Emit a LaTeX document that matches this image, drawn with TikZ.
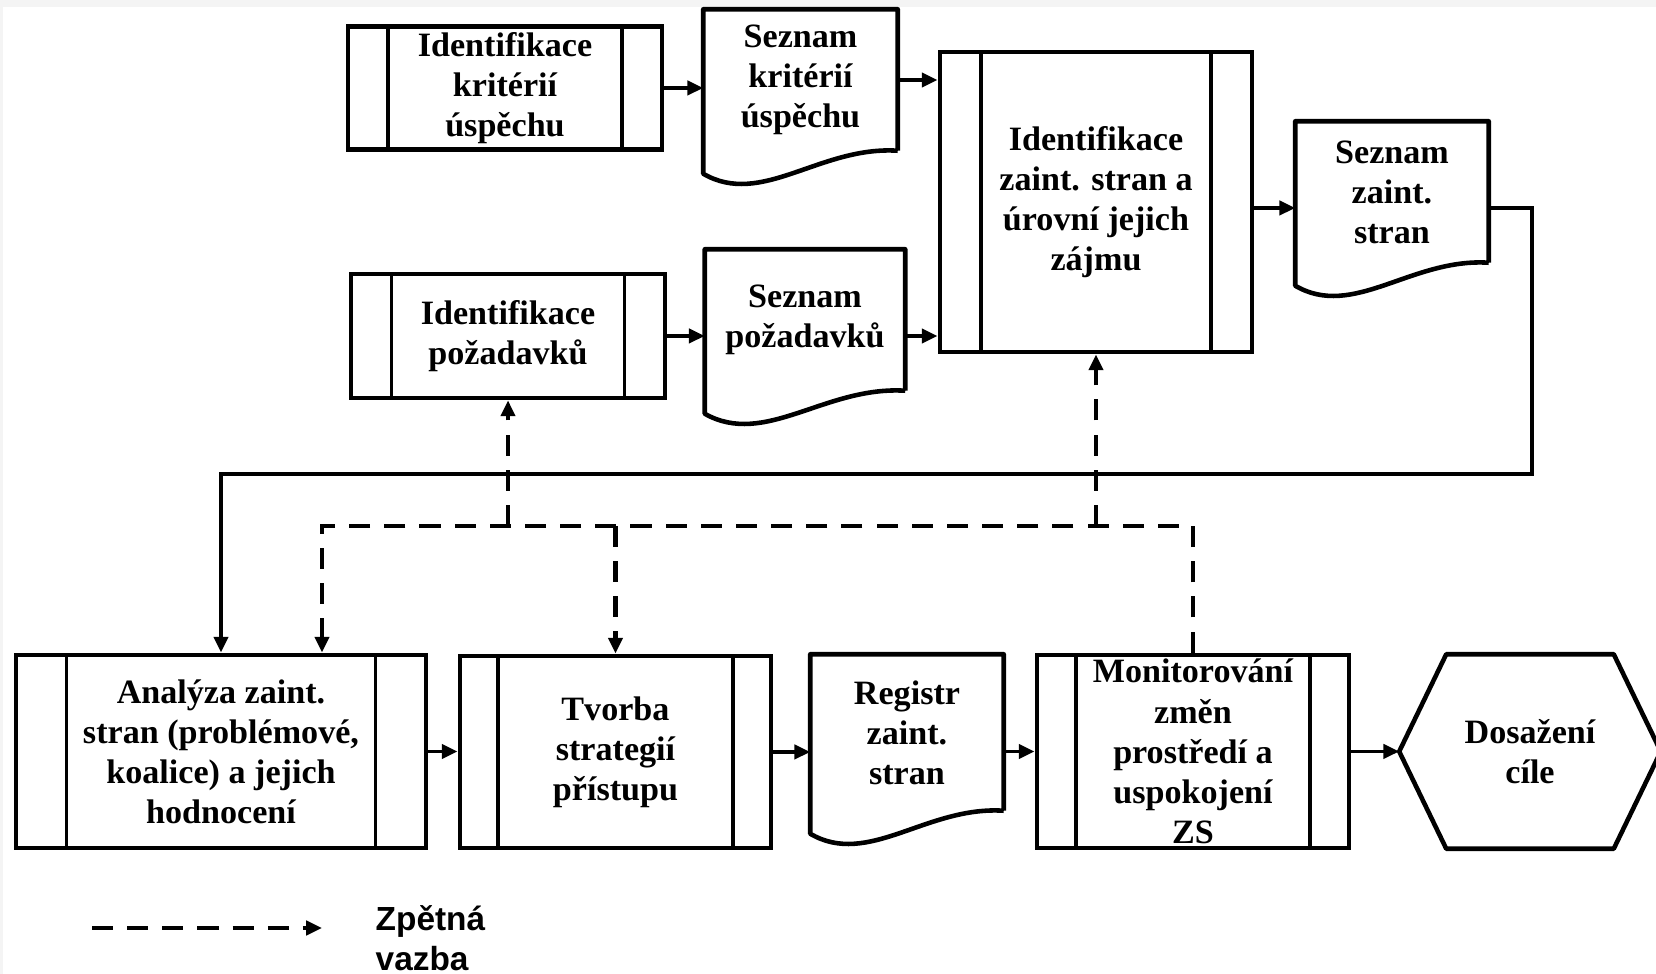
\documentclass[tikz,border=0pt]{standalone}
\usepackage{fontspec}
\setmainfont{Liberation Serif}
\setsansfont{Liberation Sans}
\usetikzlibrary{positioning, arrows.meta, calc}
\definecolor{framegray}{HTML}{F4F4F4}

% document outline with a wavy bottom, drawn round a named node
\newcommand{\docoutline}[1]{%
  \draw[docline] (#1.south east) -- (#1.north east) -- (#1.north west) -- ([yshift=-0.23cm]#1.south west)
    .. controls ($(#1.south west)!0.3!(#1.south east)+(0,57)$) and ($(#1.south west)!0.6!(#1.south east)+(0,-5)$) .. (#1.south east);}

\begin{document}
\begin{tikzpicture}[
    x=0.01cm, y=-0.01cm,
    every node/.style={font=\bfseries\fontsize{9.7}{11.4}\selectfont},
    stripe/.store in=\stripew, stripe=0.4cm,
    procbox/.style={
        draw, line width=1.3pt, inner sep=0pt, align=center,
        path picture={\draw[line width=0.9pt]
            ([xshift=\stripew]path picture bounding box.north west) -- ([xshift=\stripew]path picture bounding box.south west)
            ([xshift=-\stripew]path picture bounding box.north east) -- ([xshift=-\stripew]path picture bounding box.south east);}
    },
    docbox/.style={inner sep=0pt, align=center, minimum width=1.93cm},
    docline/.style={line width=1.3pt, line join=round},
    flow/.style={-{Triangle[length=4.5pt,width=4pt]}, line width=1.1pt},
    feedback/.style={-{Triangle[length=4.5pt,width=4pt]}, line width=1.3pt, dash pattern=on 6pt off 4pt},
]
\fill[framegray] (0,0) rectangle (1656,974);
\fill[white] (3,7) rectangle (1656,974);
\useasboundingbox (0,0) rectangle (1656,974);

% upper part
\node[procbox, minimum width=3.14cm, minimum height=1.23cm] (critproc) at (505,88) {Identifikace\\kritérií\\úspěchu};
\node[docbox, minimum height=1.40cm] (critlist) at (800.5,80) {Seznam\\kritérií\\úspěchu};
\node[procbox, minimum width=3.135cm, minimum height=1.24cm] (reqproc) at (508,336) {Identifikace\\požadavků};
\node[docbox, minimum width=1.99cm, minimum height=1.40cm] (reqlist) at (805,320) {Seznam\\požadavků};
\node[procbox, stripe=0.41cm, minimum width=3.12cm, minimum height=3.0cm] (stakeproc) at (1096,202) {Identifikace\\zaint. stran a\\úrovní jejich\\zájmu};
\node[docbox, minimum width=1.92cm, minimum height=1.40cm] (stakelist) at (1392,192) {Seznam\\zaint.\\stran};
\docoutline{critlist}
\docoutline{reqlist}
\docoutline{stakelist}

% lower part
\node[procbox, stripe=0.51cm, minimum width=4.10cm, minimum height=1.93cm] (analysis) at (221,751.5) {Analýza zaint.\\stran (problémové,\\koalice) a jejich\\hodnocení};
\node[procbox, stripe=0.38cm, minimum width=3.11cm, minimum height=1.92cm] (strategy) at (615.5,752) {Tvorba\\strategií\\přístupu};
\node[docbox, minimum width=1.92cm, minimum height=1.55cm] (register) at (907,732.5) {Registr\\zaint.\\stran};
\docoutline{register}
\node[procbox, stripe=0.39cm, minimum width=3.12cm, minimum height=1.93cm] (monitor) at (1193,751.5) {};
\node[align=center, inner sep=0pt] (monitortext) at (monitor.center) {Monitorování\\změn\\prostředí a\\uspokojení\\ZS};
\node[minimum width=1.66cm, minimum height=1.93cm, inner sep=0pt, align=center] (goal) at (1530,751.5) {Dosažení\\cíle};
\coordinate (goaltip) at ([xshift=-0.47cm]goal.west);
\draw[docline] (goal.north west) -- (goal.north east) -- ([xshift=0.47cm]goal.east) -- (goal.south east) -- (goal.south west) -- (goaltip) -- cycle;

% main flow
\draw[flow] (critproc.east) -- (critproc.east -| critlist.west);
\draw[flow] (critlist.east) -- (critlist.east -| stakeproc.west);
\draw[flow] (reqproc.east) -- (reqproc.east -| reqlist.west);
\draw[flow] (reqproc.east -| reqlist.east) -- (reqproc.east -| stakeproc.west);
\coordinate (stakeout) at ([yshift=-0.06cm]stakeproc.east);
\draw[flow] (stakeout) -- (stakeout -| stakelist.west);
\coordinate (loopcorner) at (1532,474);
\draw[flow] (stakeout -| stakelist.east) -| (loopcorner) -- (loopcorner -| analysis.north) -- (analysis.north);
\draw[flow] (analysis.east) -- (analysis.east -| strategy.west);
\draw[flow] (strategy.east) -- (strategy.east -| register.west);
\draw[flow] (monitor.west -| register.east) -- (monitor.west);
\draw[flow] (monitor.east) -- (goaltip);

% feedback
\coordinate (fbcorner) at (322,526);
\draw[feedback] (monitor.north) -- (monitor.north |- fbcorner) -- (fbcorner) -- (fbcorner |- analysis.north);
\draw[feedback] (reqproc.south |- fbcorner) -- (reqproc.south);
\draw[feedback] (stakeproc.south |- fbcorner) -- (stakeproc.south);
\draw[feedback] (strategy.north |- fbcorner) -- (strategy.north);

% legend
\node[font=\sffamily\bfseries\fontsize{9.5}{11.4}\selectfont, align=left, inner sep=0pt, anchor=north west] (legend) at (375,905) {Zpětná\\vazba};
\coordinate (legstart) at (92,928);
\coordinate (legend end) at (322,928);
\draw[feedback] (legstart) -- (legend end);
\end{tikzpicture}
\end{document}
